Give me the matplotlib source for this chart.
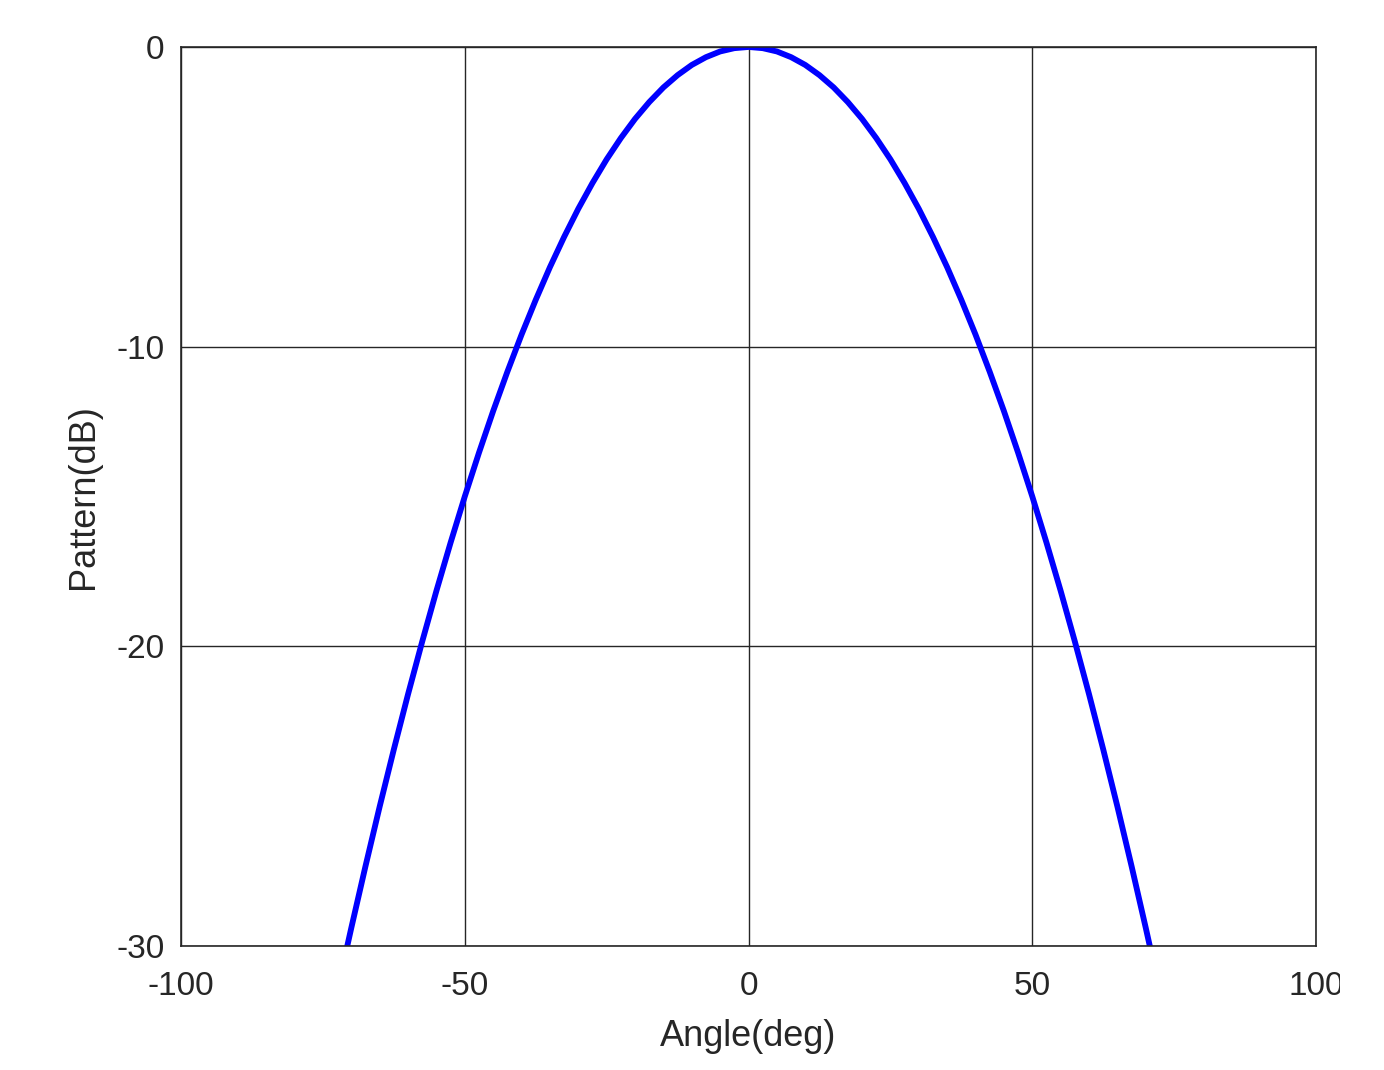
import numpy as np
import matplotlib.pyplot as plt
from matplotlib.patches import Rectangle

plt.rcParams['font.family'] = ['Liberation Sans', 'DejaVu Sans']
plt.rcParams['axes.unicode_minus'] = False

# valores (padrão de radiação em dB)
angulo = [-71, -70, -67.5, -65, -62.5, -60, -57.5, -55, -52.5, -50, -47.5, -45,
          -42.5, -40, -37.5, -35, -32.5, -30, -27.5, -25, -22.5, -20, -17.5, -15,
          -12.5, -10, -7.5, -5, -2.5, 0,
          2.5, 5, 7.5, 10, 12.5, 15, 17.5, 20, 22.5, 25, 27.5, 30, 32.5, 35,
          37.5, 40, 42.5, 45, 47.5, 50, 52.5, 55, 57.5, 60, 62.5, 65, 67.5, 70, 71]
padrao_db = [-30.25, -29.4, -27.34, -25.35, -23.44, -21.6, -19.84, -18.15, -16.54, -15.0,
             -13.54, -12.15, -10.84, -9.6, -8.44, -7.35, -6.34, -5.4, -4.54, -3.75,
             -3.04, -2.4, -1.84, -1.35, -0.94, -0.6, -0.34, -0.15, -0.04, 0.0,
             -0.04, -0.15, -0.34, -0.6, -0.94, -1.35, -1.84, -2.4, -3.04, -3.75,
             -4.54, -5.4, -6.34, -7.35, -8.44, -9.6, -10.84, -12.15, -13.54, -15.0,
             -16.54, -18.15, -19.84, -21.6, -23.44, -25.35, -27.34, -29.4, -30.25]

xticks = [-100, -50, 0, 50, 100]
yticks = [-30, -20, -10, 0]

fig = plt.figure(figsize=(13.84, 10.70), dpi=100)
ax = fig.add_axes([0.1308, 0.1159, 0.8201, 0.8402])

ax.plot(angulo, padrao_db, color='blue', linewidth=4.2, solid_joinstyle='round')

ax.set_xlim(-100, 100)
ax.set_ylim(-30, 0)
ax.set_xticks(xticks)
ax.set_yticks(yticks)
ax.grid(True, color='#262626', linewidth=1.0)
ax.set_axisbelow(True)
for s in ax.spines.values():
    s.set_color('#262626')
    s.set_linewidth(1.2)
ax.tick_params(length=0, labelsize=24, colors='#262626')
ax.tick_params(axis='x', pad=18)
ax.tick_params(axis='y', pad=12)
ax.set_xlabel('Angle(deg)', fontsize=26, color='#262626', labelpad=12)
ax.set_ylabel('Pattern(dB)', fontsize=26, color='#262626', labelpad=11)

# o rótulo "100" aparece cortado na borda da figura original
fig.add_artist(Rectangle((1340 / 1384, 0), 1, 0.1, transform=fig.transFigure,
                         facecolor='white', edgecolor='none', zorder=10))

fig.savefig('out.png', dpi=100)
